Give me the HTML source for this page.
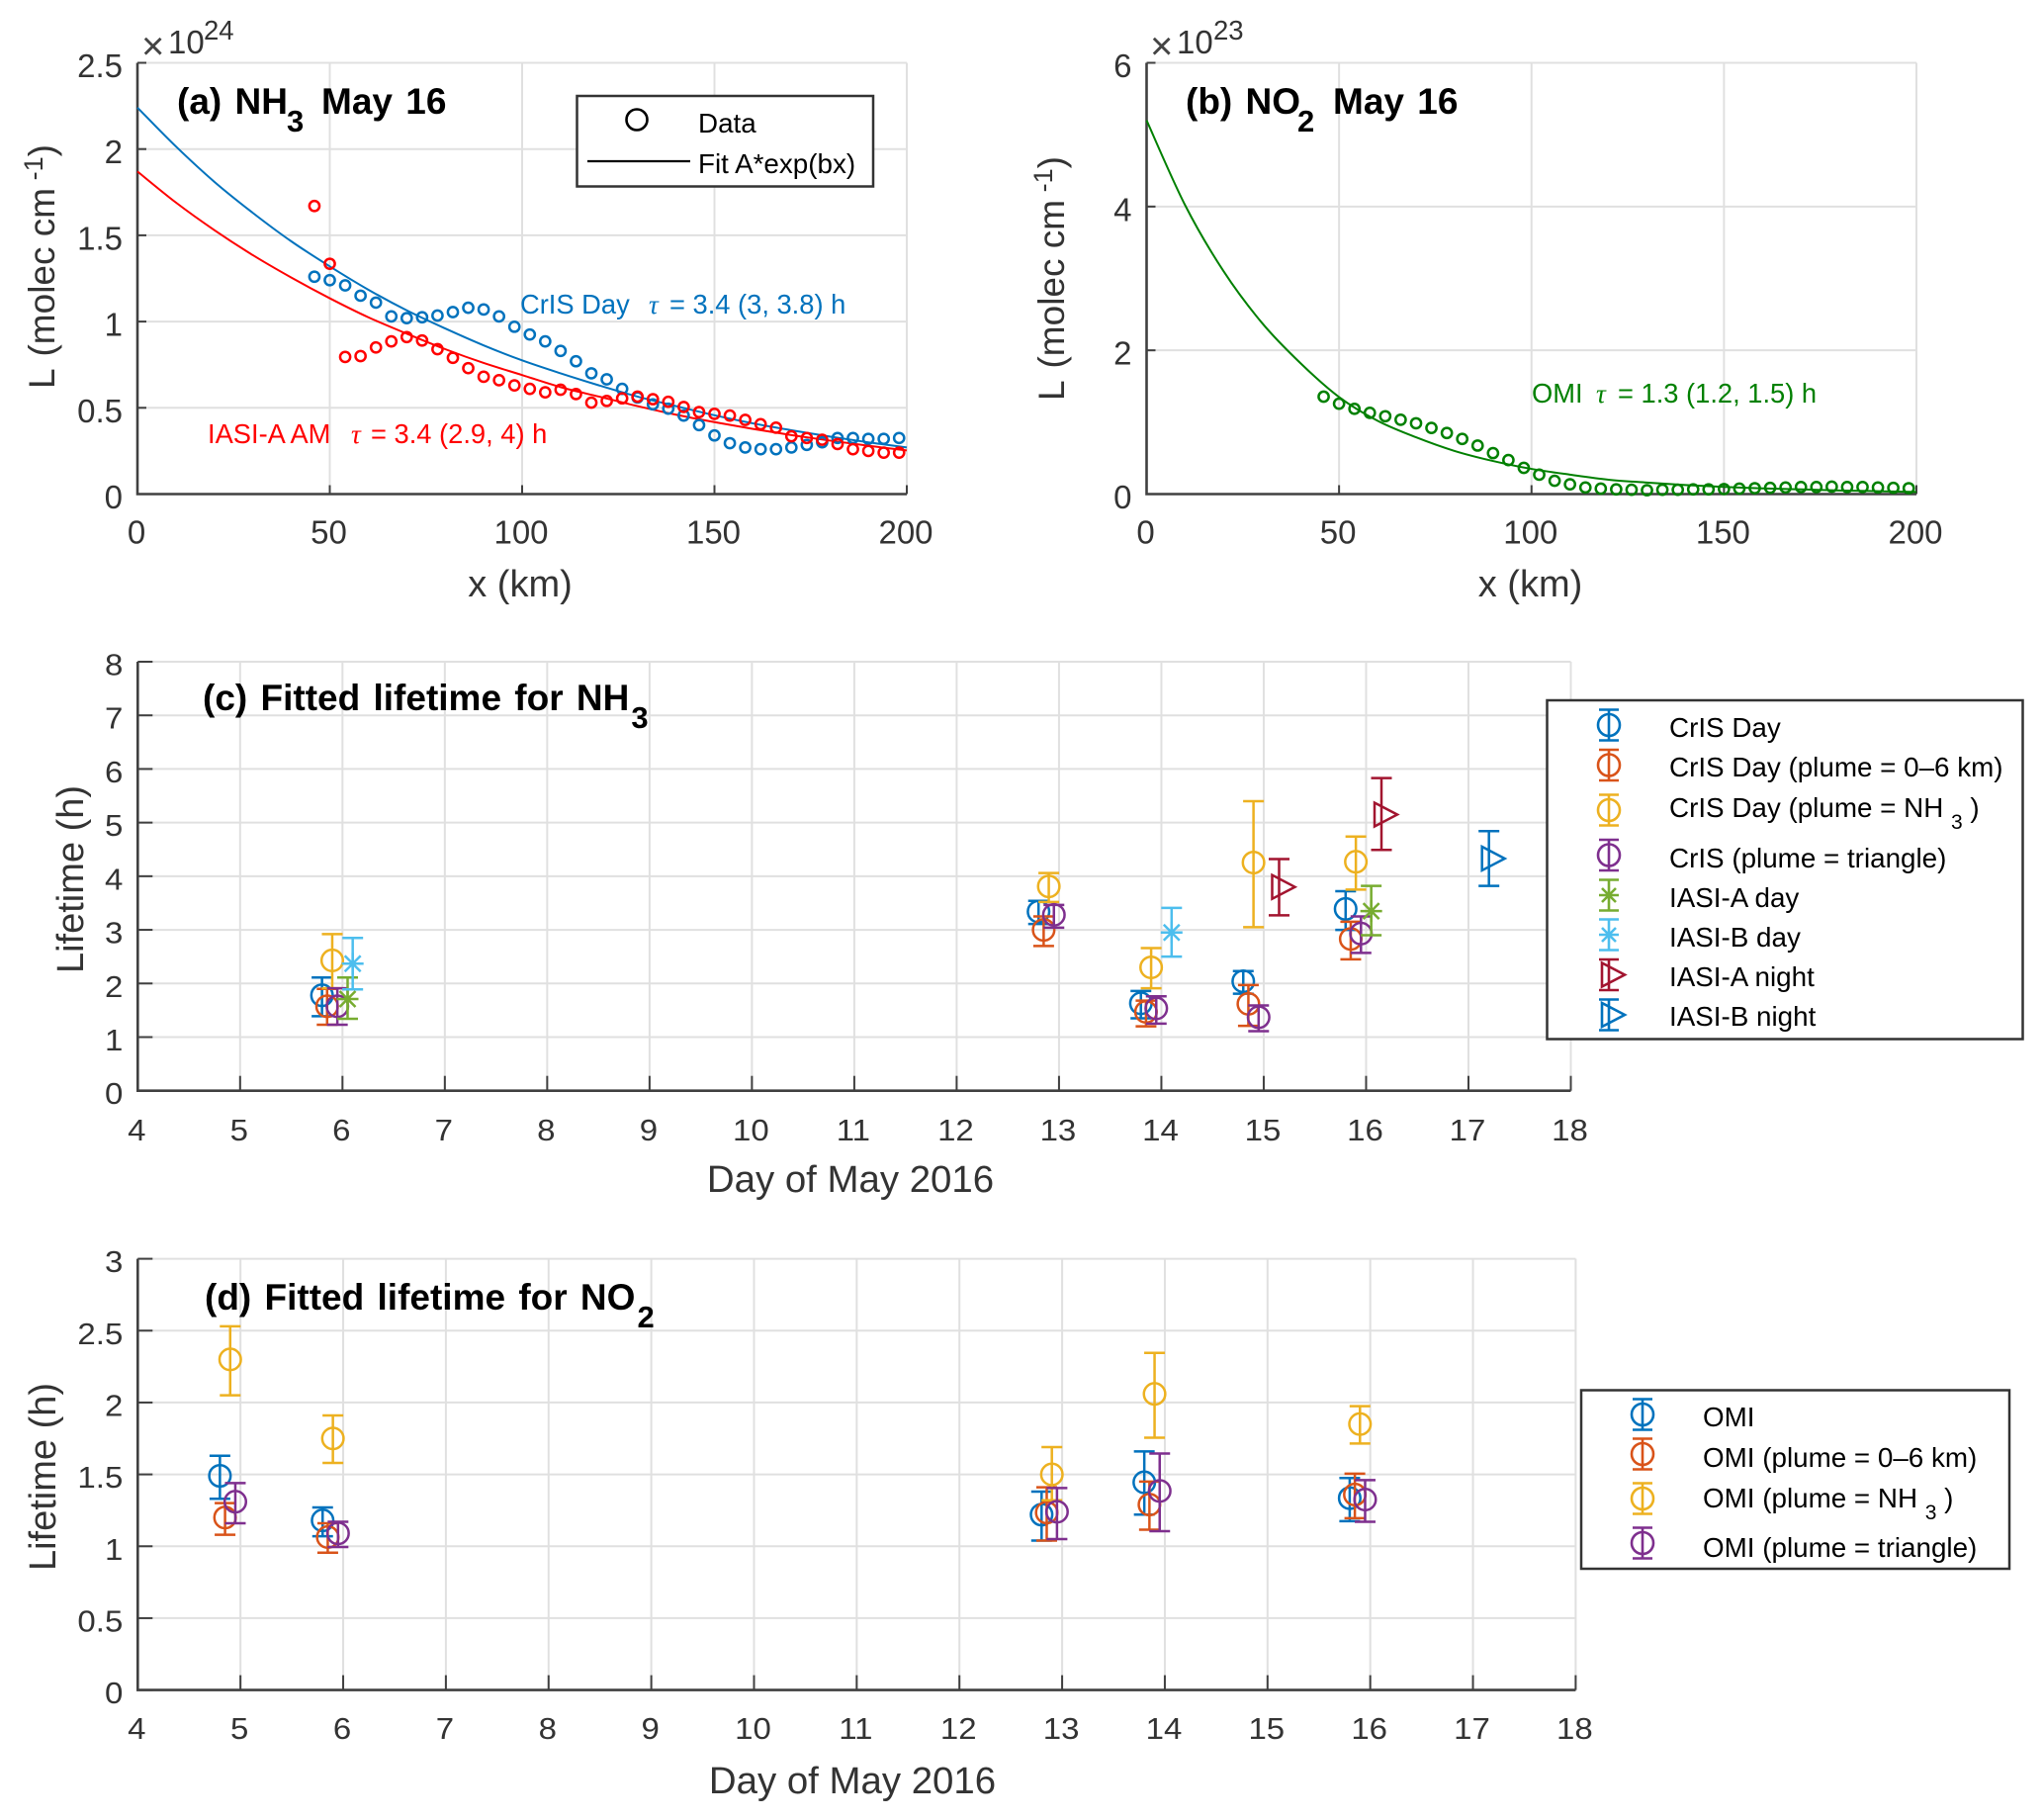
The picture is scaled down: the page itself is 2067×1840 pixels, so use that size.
<!DOCTYPE html>
<html lang="en">
<head>
<meta charset="utf-8">
<title>NH3 and NO2 lifetime fits</title>
<style>
html,body{margin:0;padding:0;background:#fff;}
svg{display:block;font-family:"Liberation Sans",Arial,sans-serif;}
.tick{font-size:33px;fill:#333;}
.axl{font-size:38px;fill:#333;}
.ayl{font-size:37px;fill:#333;}
.ttl{font-size:37px;font-weight:bold;fill:#000;word-spacing:3px;}
.sub{font-size:31px;font-weight:bold;fill:#000;}
.leg{font-size:27.8px;fill:#000;}
.ann{font-size:27.3px;}
.tau{font-family:"Liberation Serif",serif;font-style:italic;}
.box{fill:#fff;stroke:#333;stroke-width:2.5;}
.li{fill:none;stroke-width:2.6;}
</style>
</head>
<body>
<svg id="fig" width="2067" height="1840" viewBox="0 0 2067 1840" xmlns="http://www.w3.org/2000/svg">
<rect width="2067" height="1840" fill="#fff"/>
<g id="plots"></g>

<!-- Panel a text -->
<g>
<text x="143" y="60" style="font-size:40px;fill:#444">×</text>
<text class="tick" x="170" y="54">10</text>
<text x="206" y="40" style="font-size:27.5px;fill:#333">24</text>
<text class="ttl" x="179" y="115">(a) NH<tspan class="sub" x="290" dy="18">3</tspan><tspan x="325" dy="-18">May 16</tspan></text>
<text class="ayl" transform="translate(55,393) rotate(-90)">L <tspan dx="3">(molec cm</tspan><tspan dy="-12" style="font-size:27px"> -1</tspan><tspan dy="12">)</tspan></text>
<text class="axl" x="526" y="603" text-anchor="middle">x (km)</text>
<text class="ann" x="526" y="317" fill="#0072BD">CrIS Day<tspan class="tau" x="656">τ</tspan><tspan x="677">= 3.4 (3, 3.8) h</tspan></text>
<text class="ann" x="210" y="448" fill="#ff0000">IASI-A AM<tspan class="tau" x="355">τ</tspan><tspan x="375">= 3.4 (2.9, 4) h</tspan></text>
</g>
<g>
<rect class="box" x="583.5" y="97" width="299.5" height="91.5"/>
<ellipse cx="644" cy="121" rx="10.5" ry="10.5" fill="none" stroke="#000" stroke-width="2.6"/>
<text class="leg" x="706" y="134">Data</text>
<line x1="594" y1="163" x2="698" y2="163" stroke="#000" stroke-width="2.2"/>
<text class="leg" x="706" y="175">Fit A*exp(bx)</text>
</g>

<!-- Panel b text -->
<g>
<text x="1163" y="60" style="font-size:40px;fill:#444">×</text>
<text class="tick" x="1190" y="54">10</text>
<text x="1227" y="40" style="font-size:27.5px;fill:#333">23</text>
<text class="ttl" x="1199" y="115">(b) NO<tspan class="sub" x="1312" dy="18">2</tspan><tspan x="1348" dy="-18">May 16</tspan></text>
<text class="ayl" transform="translate(1076,405) rotate(-90)">L <tspan dx="3">(molec cm</tspan><tspan dy="-12" style="font-size:27px"> -1</tspan><tspan dy="12">)</tspan></text>
<text class="axl" x="1547.5" y="603" text-anchor="middle">x (km)</text>
<text class="ann" x="1549" y="407" fill="#008000">OMI<tspan class="tau" x="1614">τ</tspan><tspan x="1636">= 1.3 (1.2, 1.5) h</tspan></text>
</g>

<!-- Panel c text -->
<g>
<text class="ttl" x="205" y="718">(c) Fitted lifetime for NH<tspan class="sub" dx="2" dy="18">3</tspan></text>
<text class="axl" transform="translate(84,889) rotate(-90)" text-anchor="middle">Lifetime (h)</text>
<text class="axl" style="font-size:38.4px" x="860" y="1205" text-anchor="middle">Day of May 2016</text>
</g>
<g>
<rect class="box" x="1564.5" y="708" width="481" height="342.5"/>
<g class="li" stroke="#0072BD" transform="translate(1627,733)"><path d="M0-15.5V15.5M-10-15.5H10M-10 15.5H10"/><circle r="11"/></g>
<text class="leg" x="1688" y="745">CrIS Day</text>
<g class="li" stroke="#D95319" transform="translate(1627,773.5)"><path d="M0-15.5V15.5M-10-15.5H10M-10 15.5H10"/><circle r="11"/></g>
<text class="leg" x="1688" y="785">CrIS Day (plume = 0–6 km)</text>
<g class="li" stroke="#EDB120" transform="translate(1627,819)"><path d="M0-15.5V15.5M-10-15.5H10M-10 15.5H10"/><circle r="11"/></g>
<text class="leg" x="1688" y="826">CrIS Day (plume = NH <tspan dy="12" style="font-size:21px">3</tspan><tspan dy="-12"> )</tspan></text>
<g class="li" stroke="#7E2F8E" transform="translate(1627,864.5)"><path d="M0-15.5V15.5M-10-15.5H10M-10 15.5H10"/><circle r="11"/></g>
<text class="leg" x="1688" y="877">CrIS (plume = triangle)</text>
<g class="li" stroke="#77AC30" transform="translate(1627,905)"><path d="M0-15.5V15.5M-10-15.5H10M-10 15.5H10M-10 0H10M-7-7L7 7M-7 7L7-7"/></g>
<text class="leg" x="1688" y="917">IASI-A day</text>
<g class="li" stroke="#4DBEEE" transform="translate(1627,945)"><path d="M0-15.5V15.5M-10-15.5H10M-10 15.5H10M-10 0H10M-7-7L7 7M-7 7L7-7"/></g>
<text class="leg" x="1688" y="957">IASI-B day</text>
<g class="li" stroke="#A2142F" transform="translate(1627,985.5)"><path d="M0-15.5V15.5M-10-15.5H10M-10 15.5H10M-7-12V12L16 0Z"/></g>
<text class="leg" x="1688" y="997">IASI-A night</text>
<g class="li" stroke="#0072BD" transform="translate(1627,1026)"><path d="M0-15.5V15.5M-10-15.5H10M-10 15.5H10M-7-12V12L16 0Z"/></g>
<text class="leg" x="1688" y="1037">IASI-B night</text>
</g>

<!-- Panel d text -->
<g>
<text class="ttl" x="207" y="1324">(d) Fitted lifetime for NO<tspan class="sub" dx="2" dy="18">2</tspan></text>
<text class="axl" transform="translate(56,1493) rotate(-90)" text-anchor="middle">Lifetime (h)</text>
<text class="axl" style="font-size:38.4px" x="862" y="1813" text-anchor="middle">Day of May 2016</text>
</g>
<g>
<rect class="box" x="1599" y="1405.5" width="433" height="180.5"/>
<g class="li" stroke="#0072BD" transform="translate(1661,1430)"><path d="M0-15.5V15.5M-10-15.5H10M-10 15.5H10"/><circle r="11"/></g>
<text class="leg" x="1722" y="1442">OMI</text>
<g class="li" stroke="#D95319" transform="translate(1661,1470)"><path d="M0-15.5V15.5M-10-15.5H10M-10 15.5H10"/><circle r="11"/></g>
<text class="leg" x="1722" y="1483">OMI (plume = 0–6 km)</text>
<g class="li" stroke="#EDB120" transform="translate(1661,1515)"><path d="M0-15.5V15.5M-10-15.5H10M-10 15.5H10"/><circle r="11"/></g>
<text class="leg" x="1722" y="1524">OMI (plume = NH <tspan dy="12" style="font-size:21px">3</tspan><tspan dy="-12"> )</tspan></text>
<g class="li" stroke="#7E2F8E" transform="translate(1661,1560)"><path d="M0-15.5V15.5M-10-15.5H10M-10 15.5H10"/><circle r="11"/></g>
<text class="leg" x="1722" y="1574">OMI (plume = triangle)</text>
</g>
</svg>

<script>
// ---------- Panel (a) data ----------
const distanceKm=[46,50,54,58,62,66,70,74,78,82,86,90,94,98,102,106,110,114,118,122,126,130,134,138,142,146,150,154,158,162,166,170,174,178,182,186,190,194,198];
const crisDayLine=[1.26,1.24,1.21,1.15,1.11,1.03,1.02,1.025,1.035,1.055,1.08,1.07,1.03,0.97,0.925,0.885,0.83,0.77,0.70,0.665,0.61,0.56,0.52,0.495,0.455,0.40,0.34,0.295,0.27,0.26,0.26,0.27,0.285,0.30,0.325,0.325,0.32,0.32,0.325];
const iasiAmLine=[1.67,1.335,0.795,0.80,0.85,0.885,0.91,0.89,0.84,0.79,0.73,0.68,0.66,0.63,0.61,0.59,0.605,0.58,0.53,0.54,0.555,0.565,0.55,0.535,0.505,0.475,0.465,0.455,0.43,0.405,0.385,0.335,0.325,0.315,0.29,0.26,0.25,0.24,0.24];
const fitKm=[0,10,20,30,40,50,60,70,80,90,100,110,120,130,140,150,160,170,180,190,200];
const crisDayFit=[2.24,2.015,1.81,1.63,1.465,1.32,1.185,1.065,0.96,0.862,0.775,0.70,0.63,0.565,0.51,0.457,0.41,0.37,0.333,0.30,0.27];
const iasiAmFit=[1.87,1.69,1.53,1.385,1.255,1.135,1.025,0.93,0.84,0.76,0.69,0.62,0.565,0.51,0.46,0.417,0.378,0.342,0.31,0.28,0.253];
const kmTicks=[0,50,100,150,200];
const panelAYTicks=[0,0.5,1,1.5,2,2.5];

// ---------- Panel (b) data ----------
const omiLine=[1.355,1.257,1.186,1.13,1.083,1.034,0.985,0.92,0.85,0.767,0.675,0.57,0.473,0.365,0.27,0.185,0.136,0.092,0.076,0.065,0.06,0.054,0.06,0.06,0.065,0.065,0.07,0.076,0.082,0.087,0.092,0.098,0.098,0.103,0.098,0.098,0.092,0.087,0.082];
const omiFit=[5.2,4.02,3.1,2.38,1.82,1.35,1.02,0.79,0.6,0.46,0.35,0.27,0.2,0.16,0.125,0.1,0.08,0.065,0.05,0.04,0.03];
const panelBYTicks=[0,2,4,6];

// ---------- Panel (c) data ----------
const dayTicks=[4,5,6,7,8,9,10,11,12,13,14,15,16,17,18];
const panelCYTicks=[0,1,2,3,4,5,6,7,8];
const crisDays=[5.8,12.8,13.8,14.8,15.8];
const crisMean=[1.78,3.34,1.63,2.04,3.39];
const crisLow=[1.39,3.11,1.35,1.81,3.0];
const crisHigh=[2.11,3.54,1.86,2.23,3.72];
const crisPlumeDays=[5.85,12.85,13.85,14.85,15.85];
const crisPlumeMean=[1.575,3.0,1.47,1.62,2.83];
const crisPlumeLow=[1.23,2.70,1.2,1.21,2.45];
const crisPlumeHigh=[1.90,3.25,1.68,1.97,3.15];
const crisNh3Days=[5.9,12.9,13.9,14.9,15.9];
const crisNh3Mean=[2.43,3.81,2.3,4.255,4.27];
const crisNh3Low=[1.91,3.52,1.91,3.05,3.75];
const crisNh3High=[2.92,4.06,2.66,5.40,4.74];
const crisTriDays=[5.95,12.95,13.95,14.95,15.95];
const crisTriMean=[1.575,3.28,1.535,1.37,2.93];
const crisTriLow=[1.23,3.04,1.25,1.11,2.57];
const crisTriHigh=[1.91,3.465,1.76,1.59,3.25];
const iasiADayDays=[6.05,16.05];
const iasiADayMean=[1.71,3.35];
const iasiADayLow=[1.34,2.90];
const iasiADayHigh=[2.11,3.82];
const iasiBDayDays=[6.1,14.1];
const iasiBDayMean=[2.37,2.95];
const iasiBDayLow=[1.89,2.50];
const iasiBDayHigh=[2.85,3.41];
const iasiANightDays=[15.15,16.15];
const iasiANightMean=[3.80,5.15];
const iasiANightLow=[3.27,4.49];
const iasiANightHigh=[4.32,5.83];
const iasiBNightDays=[17.2];
const iasiBNightMean=[4.33];
const iasiBNightLow=[3.82];
const iasiBNightHigh=[4.84];

// ---------- Panel (d) data ----------
const panelDYTicks=[0,0.5,1,1.5,2,2.5,3];
const omiDays=[4.8,5.8,12.8,13.8,15.8];
const omiMean=[1.49,1.18,1.22,1.445,1.335];
const omiLow=[1.33,1.07,1.04,1.22,1.175];
const omiHigh=[1.63,1.27,1.38,1.66,1.475];
const omiPlumeDays=[4.85,5.85,12.85,13.85,15.85];
const omiPlumeMean=[1.20,1.064,1.235,1.29,1.36];
const omiPlumeLow=[1.08,0.955,1.04,1.115,1.195];
const omiPlumeHigh=[1.30,1.16,1.41,1.45,1.505];
const omiNh3Days=[4.9,5.9,12.9,13.9,15.9];
const omiNh3Mean=[2.30,1.75,1.50,2.06,1.85];
const omiNh3Low=[2.05,1.58,1.32,1.755,1.715];
const omiNh3High=[2.53,1.91,1.69,2.345,1.975];
const omiTriDays=[4.95,5.95,12.95,13.95,15.95];
const omiTriMean=[1.31,1.09,1.24,1.385,1.325];
const omiTriLow=[1.16,0.995,1.05,1.105,1.17];
const omiTriHigh=[1.44,1.17,1.405,1.645,1.46];

// ---------- Drawing ----------
const NS='http://www.w3.org/2000/svg';
const root=document.getElementById('plots');
function mk(tag,attrs,parent){
  const el=document.createElementNS(NS,tag);
  for(const k in attrs){el.setAttribute(k,attrs[k]);}
  parent.appendChild(el);
  return el;
}
function makeAxes(cfg){
  const sx=v=>cfg.left+(v-cfg.xMin)/(cfg.xMax-cfg.xMin)*(cfg.right-cfg.left);
  const sy=v=>cfg.bottom-(v-cfg.yMin)/(cfg.yMax-cfg.yMin)*(cfg.bottom-cfg.top);
  const g=mk('g',{},root);
  
  
  cfg.xTicks.forEach(t=>{
    const gl=mk('line',{x1:sx(t),x2:sx(t),y1:cfg.top,y2:cfg.bottom,stroke:'#e0e0e0','stroke-width':2},g);
    
    
  });
  cfg.yTicks.forEach(t=>{
    const gl=mk('line',{x1:cfg.left,x2:cfg.right,y1:sy(t),y2:sy(t),stroke:'#e0e0e0','stroke-width':2},g);
    
    
  });
  cfg.xTicks.forEach(t=>{
    const tk=mk('line',{x1:sx(t),x2:sx(t),y1:cfg.bottom,y2:cfg.bottom-cfg.xTickLen,stroke:'#404040','stroke-width':2},g);
    
    
    const lb=mk('text',{transform:'translate('+(sx(t)-1)+','+cfg.xLabelY+') scale(1,'+cfg.labelScaleY+')','text-anchor':'middle','class':'tick'},g);
    lb.textContent=String(t);
    
    
  });
  cfg.yTicks.forEach(t=>{
    const tk=mk('line',{x1:cfg.left,x2:cfg.left+cfg.yTickLen,y1:sy(t),y2:sy(t),stroke:'#404040','stroke-width':2},g);
    
    
    const lb=mk('text',{transform:'translate('+(cfg.left-15)+','+(sy(t)+cfg.yLabelDrop)+') scale(1,'+cfg.labelScaleY+')','text-anchor':'end','class':'tick'},g);
    lb.textContent=String(t);
    
    
  });
  const ax=mk('path',{d:'M'+cfg.left+' '+cfg.top+'V'+cfg.bottom+'H'+cfg.right,fill:'none',stroke:'#404040','stroke-width':2.6},g);
  
  
  return {sx,sy,g};
}
function drawFit(ax,xs,ys,color,name){
  const P=xs.map((x,i)=>[ax.sx(x),ax.sy(ys[i])]);
  let d='M'+P[0][0].toFixed(2)+' '+P[0][1].toFixed(2);
  for(let i=0;i<P.length-1;i++){
    const a=P[Math.max(i-1,0)],b=P[i],c=P[i+1],e=P[Math.min(i+2,P.length-1)];
    d+='C'+(b[0]+(c[0]-a[0])/6).toFixed(2)+' '+(b[1]+(c[1]-a[1])/6).toFixed(2)+' '+(c[0]-(e[0]-b[0])/6).toFixed(2)+' '+(c[1]-(e[1]-b[1])/6).toFixed(2)+' '+c[0].toFixed(2)+' '+c[1].toFixed(2);
  }
  const p=mk('path',{d:d,fill:'none',stroke:color,'stroke-width':2},ax.g);
  
  
}
function drawPoints(ax,xs,ys,color,name){
  xs.forEach((x,i)=>{
    const c=mk('circle',{cx:ax.sx(x),cy:ax.sy(ys[i]),r:5.1,fill:'none',stroke:color,'stroke-width':2.5},ax.g);
    
    
  });
}
function drawErrorSeries(ax,days,mean,low,high,color,marker,name){
  days.forEach((d,i)=>{
    const X=ax.sx(d),Y=ax.sy(mean[i]),L=ax.sy(low[i]),H=ax.sy(high[i]);
    const g=mk('g',{fill:'none',stroke:color,'stroke-width':2.5},ax.g);
    
    
    mk('path',{d:'M'+X+' '+H+'V'+L+'M'+(X-10.5)+' '+H+'H'+(X+10.5)+'M'+(X-10.5)+' '+L+'H'+(X+10.5)},g);
    if(marker==='circle'){
      mk('circle',{cx:X,cy:Y,r:10.8},g);
    }else if(marker==='star'){
      mk('path',{d:'M'+(X-11)+' '+Y+'H'+(X+11)+'M'+X+' '+(Y-11)+'V'+(Y+11)+'M'+(X-8)+' '+(Y-8)+'L'+(X+8)+' '+(Y+8)+'M'+(X-8)+' '+(Y+8)+'L'+(X+8)+' '+(Y-8)},g);
    }else{
      mk('path',{d:'M'+(X-7)+' '+(Y-12)+'V'+(Y+12)+'L'+(X+16)+' '+Y+'Z'},g);
    }
  });
}

const axA=makeAxes({name:'panel-a-axes',left:139,right:917,top:63.5,bottom:499.5,xMin:0,xMax:200,yMin:0,yMax:2.5,xTicks:kmTicks,yTicks:panelAYTicks,xTickLen:9,yTickLen:9,xLabelY:549.5,yLabelDrop:14.5,labelScaleY:1});
drawFit(axA,fitKm,crisDayFit,'#0072BD','crIS-day-fit-line');
drawFit(axA,fitKm,iasiAmFit,'#ff0000','iasi-a-am-fit-line');
drawPoints(axA,distanceKm,crisDayLine,'#0072BD','crIS-day-point');
drawPoints(axA,distanceKm,iasiAmLine,'#ff0000','iasi-a-am-point');

const axB=makeAxes({name:'panel-b-axes',left:1159.5,right:1938,top:63.5,bottom:499.5,xMin:0,xMax:200,yMin:0,yMax:6,xTicks:kmTicks,yTicks:panelBYTicks,xTickLen:9,yTickLen:9,xLabelY:549.5,yLabelDrop:14.5,labelScaleY:1});
drawFit(axB,fitKm,omiFit,'#008000','omi-fit-line');
drawPoints(axB,distanceKm,omiLine,'#008000','omi-point');

const axC=makeAxes({name:'panel-c-axes',left:139.3,right:1588.5,top:669,bottom:1102.7,xMin:4,xMax:18,yMin:0,yMax:8,xTicks:dayTicks,yTicks:panelCYTicks,xTickLen:15,yTickLen:15,xLabelY:1153,yLabelDrop:13.5,labelScaleY:0.93});
drawErrorSeries(axC,crisDays,crisMean,crisLow,crisHigh,'#0072BD','circle','cris-day-marker');
drawErrorSeries(axC,crisPlumeDays,crisPlumeMean,crisPlumeLow,crisPlumeHigh,'#D95319','circle','cris-day-0-6km-marker');
drawErrorSeries(axC,crisNh3Days,crisNh3Mean,crisNh3Low,crisNh3High,'#EDB120','circle','cris-day-nh3-marker');
drawErrorSeries(axC,crisTriDays,crisTriMean,crisTriLow,crisTriHigh,'#7E2F8E','circle','cris-triangle-marker');
drawErrorSeries(axC,iasiADayDays,iasiADayMean,iasiADayLow,iasiADayHigh,'#77AC30','star','iasi-a-day-marker');
drawErrorSeries(axC,iasiBDayDays,iasiBDayMean,iasiBDayLow,iasiBDayHigh,'#4DBEEE','star','iasi-b-day-marker');
drawErrorSeries(axC,iasiANightDays,iasiANightMean,iasiANightLow,iasiANightHigh,'#A2142F','tri','iasi-a-night-marker');
drawErrorSeries(axC,iasiBNightDays,iasiBNightMean,iasiBNightLow,iasiBNightHigh,'#0072BD','tri','iasi-b-night-marker');

const axD=makeAxes({name:'panel-d-axes',left:139.3,right:1593.4,top:1272.6,bottom:1708.6,xMin:4,xMax:18,yMin:0,yMax:3,xTicks:dayTicks,yTicks:panelDYTicks,xTickLen:15,yTickLen:15,xLabelY:1758,yLabelDrop:13.5,labelScaleY:0.93});
drawErrorSeries(axD,omiDays,omiMean,omiLow,omiHigh,'#0072BD','circle','omi-marker');
drawErrorSeries(axD,omiPlumeDays,omiPlumeMean,omiPlumeLow,omiPlumeHigh,'#D95319','circle','omi-0-6km-marker');
drawErrorSeries(axD,omiNh3Days,omiNh3Mean,omiNh3Low,omiNh3High,'#EDB120','circle','omi-nh3-marker');
drawErrorSeries(axD,omiTriDays,omiTriMean,omiTriLow,omiTriHigh,'#7E2F8E','circle','omi-triangle-marker');
</script>
</body>
</html>
